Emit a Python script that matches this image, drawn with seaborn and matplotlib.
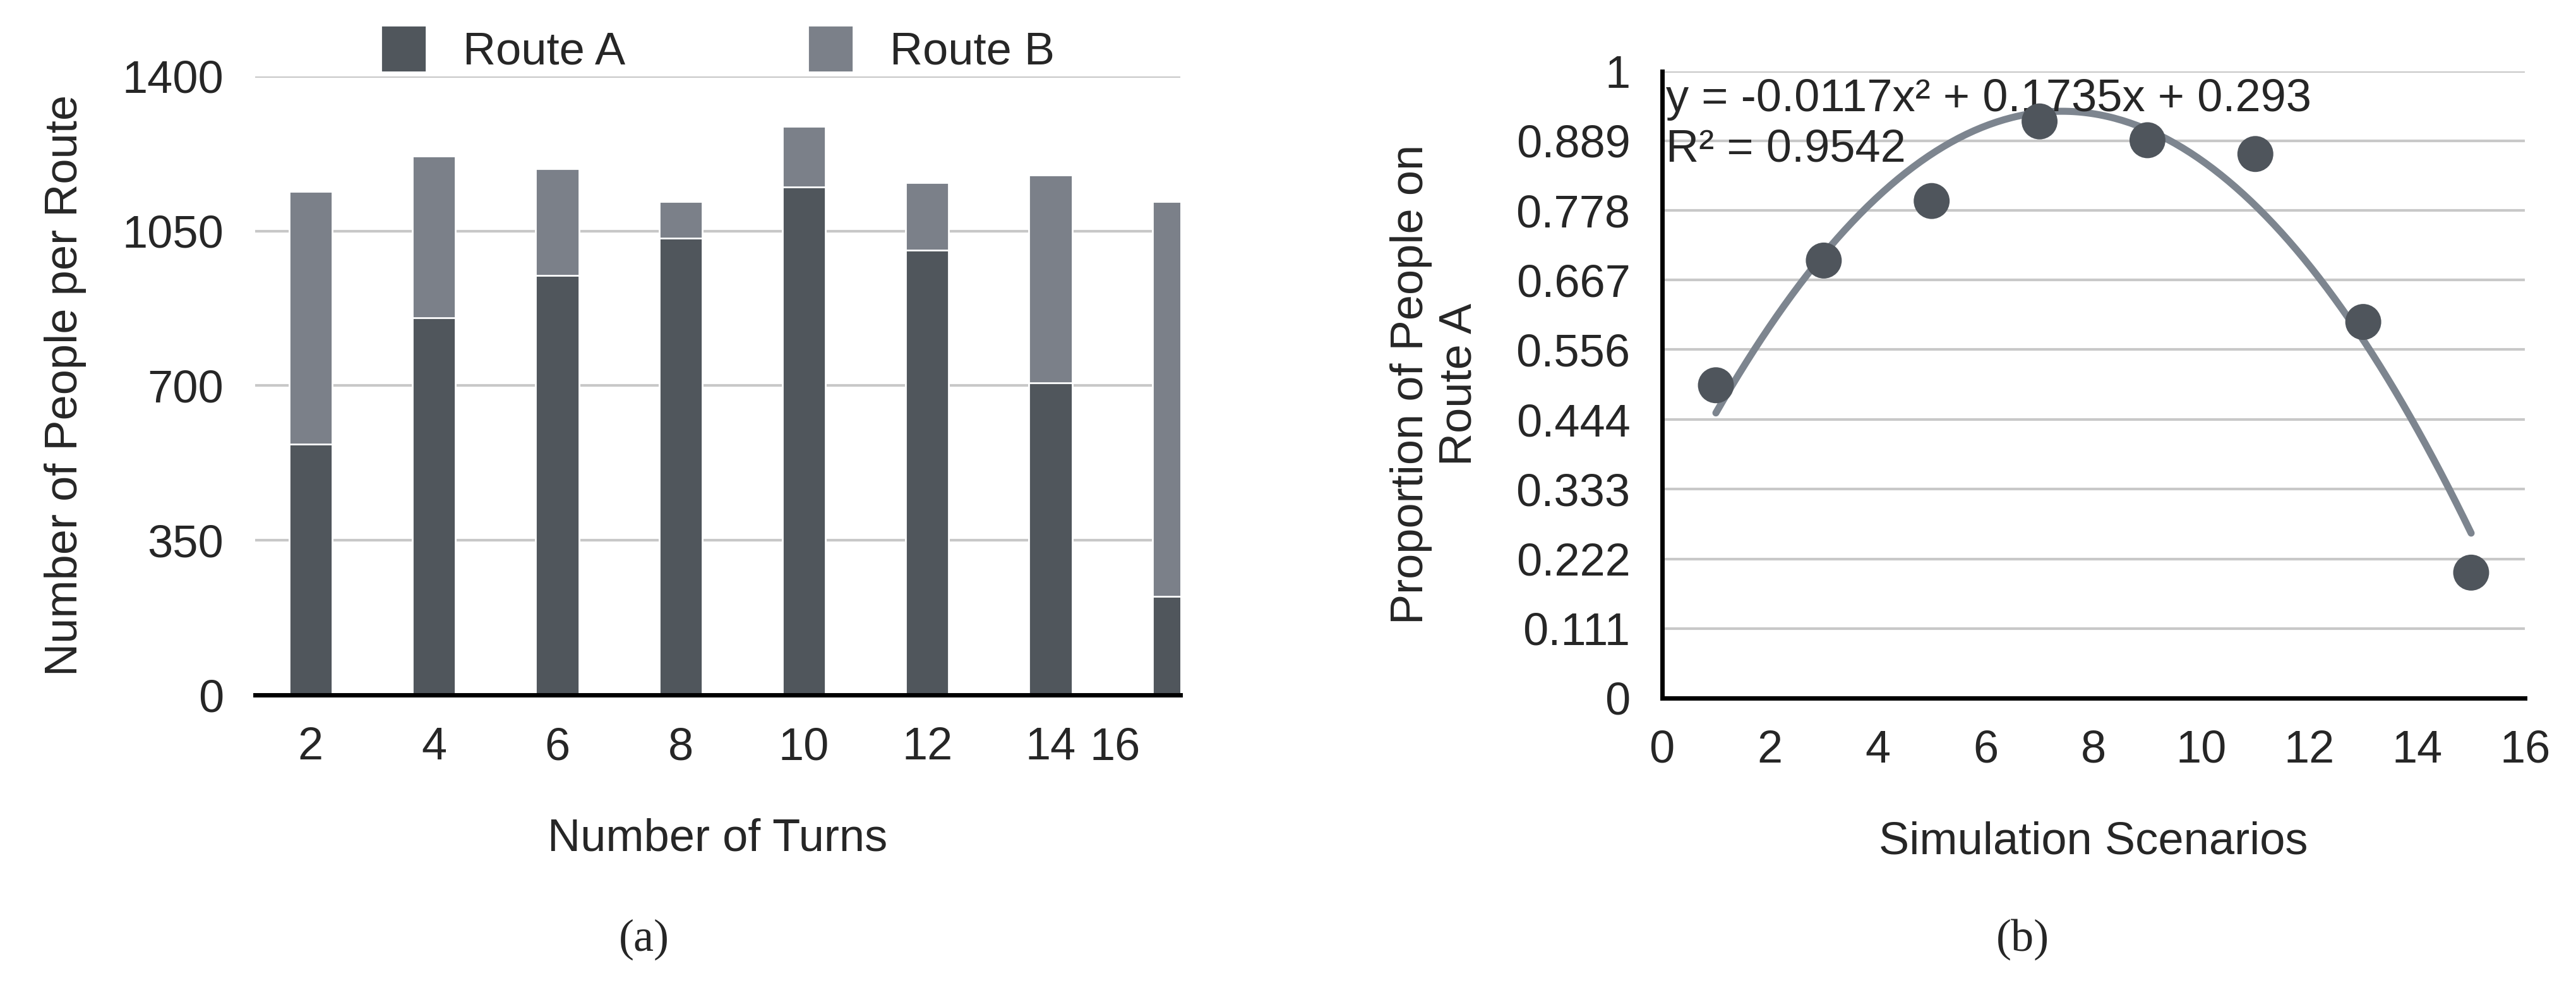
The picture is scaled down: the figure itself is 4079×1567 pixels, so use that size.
import matplotlib
matplotlib.use("Agg")
import matplotlib.pyplot as plt
import numpy as np
import pandas as pd
import seaborn as sns

# panel (a) data
turns = ["2", "4", "6", "8", "10", "12", "14", "16"]
route_a = [567, 854, 949, 1033, 1150, 1007, 706, 223]
total = [1140, 1219, 1191, 1117, 1287, 1160, 1176, 1117]

# panel (b) data
scenarios = [1, 3, 5, 7, 9, 11, 13, 15]
proportion_a = [0.499, 0.698, 0.793, 0.920, 0.890, 0.868, 0.600, 0.200]
coef = [-0.0117, 0.1735, 0.293]
yticks_b = [0, 0.111, 0.222, 0.333, 0.444, 0.556, 0.667, 0.778, 0.889, 1]

sns.set_theme(style="white")
plt.rcParams['font.family'] = ['Liberation Sans', 'DejaVu Sans']

col_a = "#50565c"
col_b = "#7b8089"
grid_c = "#c8c8c8"
fs = 26

fig = plt.figure(figsize=(20.4, 7.835), dpi=200)
ax1 = fig.add_axes([0.099, 0.298, 0.359, 0.625])
ax2 = fig.add_axes([0.645, 0.295, 0.335, 0.633])

# ---- (a) stacked bars
df = pd.DataFrame({"turns": turns, "A": route_a, "total": total})
sns.barplot(data=df, x="turns", y="total", color=col_b, width=0.35,
            saturation=1, ax=ax1, label="Route B", zorder=3)
sns.barplot(data=df, x="turns", y="A", color=col_a, width=0.35,
            saturation=1, ax=ax1, label="Route A", zorder=4)
ax1.set_ylim(0, 1400)
ax1.set_xlim(-0.45, 7.05)
ax1.set_yticks([0, 350, 700, 1050, 1400])
ax1.yaxis.grid(True, color=grid_c, lw=1.5, zorder=0)
ax1.set_axisbelow(True)
for s in ["top", "right", "left"]:
    ax1.spines[s].set_visible(False)
ax1.spines["bottom"].set_color("black")
ax1.spines["bottom"].set_linewidth(2.5)
ax1.spines["bottom"].set_zorder(5)
# odd tick layout from the original: "16" sits between the last two bars
ax1.set_xticks([0, 1, 2, 3, 4, 5, 6, 6.52])
ax1.set_xticklabels(turns)
ax1.tick_params(axis="both", labelsize=fs, length=0, pad=18)
ax1.set_xlabel("Number of Turns", fontsize=fs, labelpad=28)
ax1.set_ylabel("Number of People per Route", fontsize=fs, labelpad=20)
h, l = ax1.get_legend_handles_labels()
ax1.legend(h[::-1], l[::-1], loc="lower center", bbox_to_anchor=(0.5, 0.975),
           ncol=2, frameon=False, fontsize=fs, columnspacing=4,
           handlelength=1.0, handleheight=1.2, borderaxespad=0)
fig.text(0.25, 0.04, "(a)", fontsize=fs, family="Liberation Serif", ha="center")

# ---- (b) scatter + quadratic trend
xs = np.linspace(1, 15, 200)
ys = np.polyval(coef, xs)
sns.lineplot(x=xs, y=ys, color="#7d858f", lw=4, ax=ax2, zorder=3)
sns.scatterplot(x=scenarios, y=proportion_a, color="#4f555c", s=420,
                edgecolor="none", ax=ax2, zorder=4)
ax2.set_xlim(0, 16)
ax2.set_ylim(0, 1)
ax2.set_xticks(range(0, 17, 2))
ax2.set_yticks(yticks_b)
ax2.set_yticklabels([f"{v:g}" for v in yticks_b])
ax2.yaxis.grid(True, color=grid_c, lw=1.5, zorder=0)
ax2.set_axisbelow(True)
for s in ["top", "right"]:
    ax2.spines[s].set_visible(False)
for s in ["left", "bottom"]:
    ax2.spines[s].set_color("black")
    ax2.spines[s].set_linewidth(2.5)
ax2.tick_params(axis="both", labelsize=fs, length=0, pad=18)
ax2.set_xlabel("Simulation Scenarios", fontsize=fs, labelpad=28)
ax2.set_ylabel("Proportion of People on\nRoute A", fontsize=fs, labelpad=20)
ax2.text(0.005, 0.955, "y = -0.0117x² + 0.1735x + 0.293", transform=ax2.transAxes,
         fontsize=fs, va="center")
ax2.text(0.005, 0.875, "R² = 0.9542", transform=ax2.transAxes,
         fontsize=fs, va="center")
fig.text(0.785, 0.04, "(b)", fontsize=fs, family="Liberation Serif", ha="center")

fig.savefig("out.png", dpi=200, facecolor="white")
